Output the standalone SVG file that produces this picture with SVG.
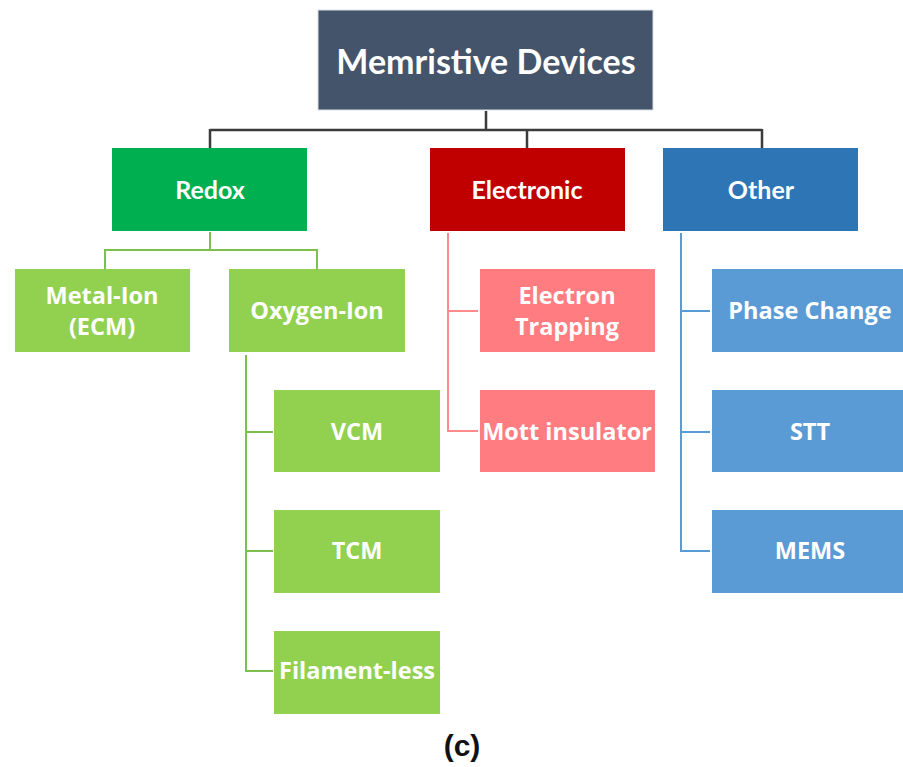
<svg xmlns="http://www.w3.org/2000/svg" width="903" height="767" viewBox="0 0 903 767">
  <style>
    .lbl { font-family: Lato, "Open Sans", "Liberation Sans", sans-serif; font-weight: bold; fill: #ffffff; text-anchor: middle; dominant-baseline: central; }
    .sub { font-family: "Open Sans", "Liberation Sans", sans-serif; font-weight: bold; fill: #ffffff; text-anchor: middle; dominant-baseline: central; font-size: 23.5px; }
    .root { fill: #44546A; stroke: #d9dde3; stroke-width: 1; }
    .redox { fill: #00B050; }
    .elec { fill: #C00000; }
    .other { fill: #2E75B6; }
    .green { fill: #92D050; }
    .pink { fill: #FF7C80; }
    .blue { fill: #5B9BD5; }
    .c-dark { stroke: #3b3b3b; stroke-width: 2.5; fill: none; }
    .c-green { stroke: #7DC04F; stroke-width: 2; fill: none; }
    .c-pink { stroke: #FF8A8C; stroke-width: 2; fill: none; }
    .c-blue { stroke: #5B9BD5; stroke-width: 2; fill: none; }
  </style>

  <!-- connectors -->
  <g id="connectors">
    <path class="c-dark" d="M486 111 V130 M210 130 H762 M210 129 V148 M527 129 V148 M762 129 V148"/>
    <path class="c-green" d="M210 232 V250 M104 250 H317 M105 249 V269 M317 249 V269"/>
    <path class="c-green" d="M246 355 V671 M245 432 H273 M245 551 H273 M245 671 H273"/>
    <path class="c-pink" d="M448 233 V431 M447 311 H478 M447 431 H478"/>
    <path class="c-blue" d="M681 233 V551 M680 311 H710 M680 432 H710 M680 551 H710"/>
  </g>

  <!-- root -->
  <g id="memristive-devices">
    <rect class="root" x="318" y="10" width="335" height="100"/>
    <text class="lbl" x="486" y="60" font-size="34">Memristive Devices</text>
  </g>

  <!-- first level -->
  <g id="redox">
    <rect class="redox" x="112" y="148" width="195" height="83"/>
    <text class="lbl" x="210" y="189" font-size="25">Redox</text>
  </g>
  <g id="electronic">
    <rect class="elec" x="430" y="148" width="195" height="83"/>
    <text class="lbl" x="527" y="189" font-size="25">Electronic</text>
  </g>
  <g id="other">
    <rect class="other" x="663" y="148" width="195" height="83"/>
    <text class="lbl" x="761" y="189" font-size="25">Other</text>
  </g>

  <!-- redox branch -->
  <g id="metal-ion">
    <rect class="green" x="15" y="269" width="175" height="83"/>
    <text class="sub" x="102" y="295">Metal-Ion</text>
    <text class="sub" x="102" y="326">(ECM)</text>
  </g>
  <g id="oxygen-ion">
    <rect class="green" x="229" y="269" width="176" height="83"/>
    <text class="sub" x="317" y="310">Oxygen-Ion</text>
  </g>
  <g id="vcm">
    <rect class="green" x="274" y="390" width="166" height="82"/>
    <text class="sub" x="357" y="431">VCM</text>
  </g>
  <g id="tcm">
    <rect class="green" x="274" y="510" width="166" height="83"/>
    <text class="sub" x="357" y="550">TCM</text>
  </g>
  <g id="filament-less">
    <rect class="green" x="274" y="631" width="166" height="83"/>
    <text class="sub" x="357" y="670">Filament-less</text>
  </g>

  <!-- electronic branch -->
  <g id="electron-trapping">
    <rect class="pink" x="480" y="269" width="175" height="83"/>
    <text class="sub" x="567" y="295">Electron</text>
    <text class="sub" x="567" y="326">Trapping</text>
  </g>
  <g id="mott-insulator">
    <rect class="pink" x="480" y="390" width="175" height="82"/>
    <text class="sub" x="567" y="431">Mott insulator</text>
  </g>

  <!-- other branch -->
  <g id="phase-change">
    <rect class="blue" x="712" y="269" width="191" height="83"/>
    <text class="sub" x="810" y="310">Phase Change</text>
  </g>
  <g id="stt">
    <rect class="blue" x="712" y="390" width="191" height="82"/>
    <text class="sub" x="810" y="431">STT</text>
  </g>
  <g id="mems">
    <rect class="blue" x="712" y="510" width="191" height="83"/>
    <text class="sub" x="810" y="550">MEMS</text>
  </g>

  <!-- caption -->
  <text x="462" y="745" font-family="'Liberation Sans', Arial, sans-serif" font-weight="bold" font-size="30" fill="#111111" text-anchor="middle" dominant-baseline="central">(c)</text>
</svg>
